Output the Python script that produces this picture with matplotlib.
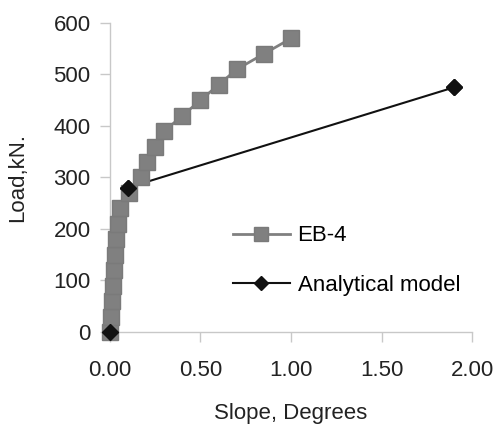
import matplotlib
matplotlib.use("Agg")
import matplotlib.pyplot as plt

plt.rcParams['font.family'] = ['Liberation Sans', 'DejaVu Sans']

# EB-4 test data
eb4_slope = [0.0, 0.008, 0.011, 0.016, 0.022, 0.029, 0.031, 0.044, 0.058, 0.106,
             0.171, 0.204, 0.25, 0.30, 0.40, 0.50, 0.60, 0.70, 0.85, 1.0]
eb4_load = [0, 30, 60, 90, 120, 150, 180, 210, 240, 270,
            300, 330, 360, 390, 420, 450, 480, 510, 540, 570]

# Analytical model
model_slope = [0.0, 0.097, 1.9]
model_load = [0, 280, 475]

fig = plt.figure(figsize=(4.99, 4.30), dpi=100)
ax = fig.add_axes([0.2204, 0.228, 0.7256, 0.7185])

# model line sits under the test markers, its diamonds on top
ax.plot(model_slope, model_load, color='#111111', lw=1.5, marker='D', ms=8,
        mfc='#111111', mec='#111111', label='Analytical model',
        clip_on=False, zorder=2)
ax.plot(eb4_slope, eb4_load, color='#808080', lw=2, marker='s', ms=11,
        mec='#7a7a7a', mfc='#808080', label='EB-4', clip_on=False, zorder=3)
ax.plot(model_slope, model_load, ls='none', marker='D', ms=8,
        mfc='#111111', mec='#111111', clip_on=False, zorder=4)

ax.set_xlim(0, 2)
ax.set_ylim(0, 600)
ax.set_xticks([0, 0.5, 1.0, 1.5, 2.0])
ax.set_xticklabels(['0.00', '0.50', '1.00', '1.50', '2.00'])
ax.set_yticks(range(0, 601, 100))

for s in ['top', 'right']:
    ax.spines[s].set_visible(False)
for s in ['left', 'bottom']:
    ax.spines[s].set_color('#c8c8c8')
    ax.spines[s].set_linewidth(1)
ax.tick_params(direction='out', length=7, width=1, color='#c8c8c8',
               labelsize=16, labelcolor='#222222')
ax.tick_params(axis='x', pad=13)
ax.tick_params(axis='y', pad=7)

ax.set_xlabel('Slope, Degrees', fontsize=16, color='#222222', labelpad=16)
ax.set_ylabel('Load,kN.', fontsize=16, color='#222222', labelpad=18)

handles, labels = ax.get_legend_handles_labels()
ax.legend([handles[1], handles[0]], [labels[1], labels[0]],
          loc='upper left', bbox_to_anchor=(0.34, 0.345), frameon=False,
          fontsize=16, handlelength=2.55, handletextpad=0.35, labelspacing=1.3,
          borderaxespad=0, borderpad=0, markerscale=0.9)

fig.savefig('out.png', dpi=100)
